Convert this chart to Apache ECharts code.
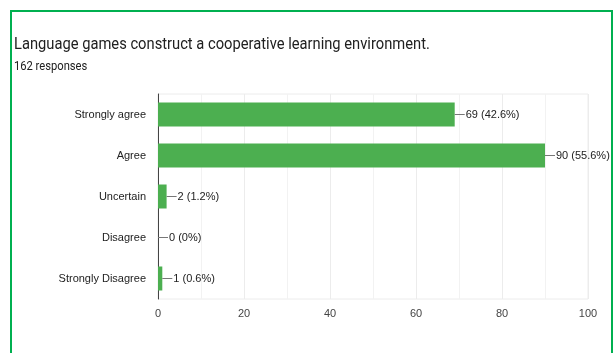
<!DOCTYPE html>
<html>
<head>
<meta charset="utf-8">
<script src="https://cdn.jsdelivr.net/npm/echarts@6/dist/echarts.min.js"></script>
<style>
html,body{margin:0;padding:0;background:#fff;}
#chart{width:615px;height:353px;}
</style>
</head>
<body>
<div id="chart"></div>
<script>
const titleText = 'Language games construct a cooperative learning environment.';
const subtitleText = '162 responses';
const categories = ['Strongly agree', 'Agree', 'Uncertain', 'Disagree', 'Strongly Disagree'];
const counts = [69, 90, 2, 0, 1];
const percents = ['42.6%', '55.6%', '1.2%', '0%', '0.6%'];
const axisMin = 0, axisMax = 100, axisStep = 20;

const chart = echarts.init(document.getElementById('chart'), null, {renderer: 'canvas'});
const labelFont = '"Liberation Sans", Arial, Helvetica, sans-serif';

chart.setOption({
  animation: false,
  backgroundColor: '#ffffff',
  graphic: [
    {
      type: 'rect', silent: true,
      shape: {x: 11, y: 11, width: 601, height: 380},
      style: {fill: 'none', stroke: '#00b050', lineWidth: 2}
    },
    {
      type: 'text', left: 14, top: 37, scaleX: 0.92, originX: 14, originY: 45,
      style: {text: titleText, fontFamily: 'Roboto, "Noto Sans", sans-serif', fontSize: 16, fill: '#202020'}
    },
    {
      type: 'text', left: 14, top: 60, scaleX: 0.86, originX: 14, originY: 67,
      style: {text: subtitleText, fontFamily: 'Roboto, "Noto Sans", sans-serif', fontSize: 13, fill: '#202020'}
    }
  ],
  grid: {
    left: 158, right: 27, top: 94, bottom: 54,
    show: true, borderColor: '#ececec', borderWidth: 1
  },
  xAxis: {
    type: 'value', min: axisMin, max: axisMax, interval: axisStep,
    axisLine: {show: false},
    axisTick: {show: false},
    axisLabel: {margin: 9, color: '#444', fontSize: 11, fontFamily: labelFont},
    splitLine: {show: true, lineStyle: {color: '#ececec', width: 1}},
    minorTick: {show: false, splitNumber: 2},
    minorSplitLine: {show: true, lineStyle: {color: '#f2f2f2', width: 1}}
  },
  yAxis: {
    type: 'category', data: categories, inverse: true,
    axisLine: {show: true, lineStyle: {color: '#444', width: 1}},
    axisTick: {show: false},
    axisLabel: {margin: 12, color: '#222', fontSize: 11, fontFamily: labelFont},
    splitLine: {show: false}
  },
  series: [{
    type: 'bar',
    data: counts,
    barWidth: 24,
    itemStyle: {color: '#4caf50'},
    label: {
      show: true, position: 'right', distance: 0,
      formatter: function (p) {
        return '{l|}{t|' + counts[p.dataIndex] + ' (' + percents[p.dataIndex] + ')}';
      },
      rich: {
        l: {width: 10, height: 1, backgroundColor: '#777'},
        t: {fontSize: 11, fontFamily: labelFont, color: '#222', padding: [0, 0, 0, 1]}
      }
    }
  }]
});
</script>
</body>
</html>
